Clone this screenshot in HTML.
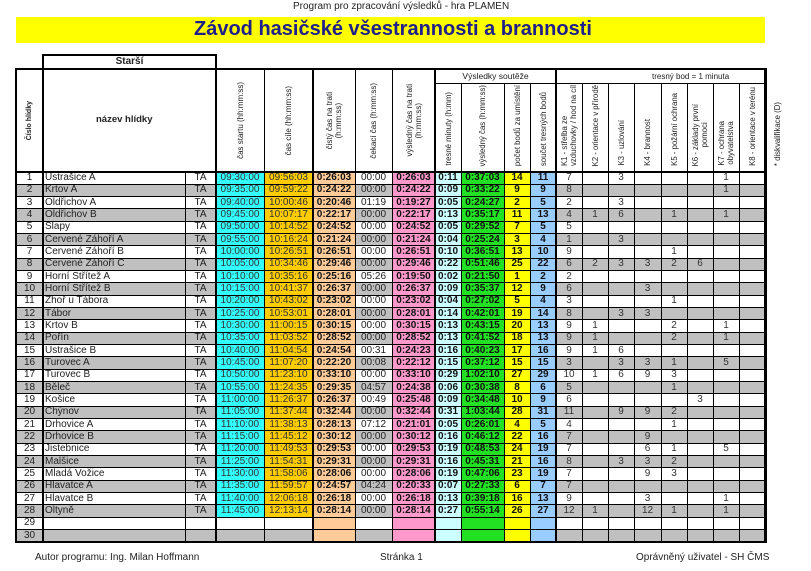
<!DOCTYPE html>
<html><head><meta charset="utf-8">
<style>
*{margin:0;padding:0;box-sizing:border-box}
body{width:811px;height:571px;background:#fff;position:relative;overflow:hidden;font-family:"Liberation Sans",Arial,sans-serif;color:#222}
.a{position:absolute;white-space:nowrap}
#tb{position:absolute;left:16px;top:172px;width:749px}
.r{position:relative;height:12.3333px;display:flex;background:#fff}
.r:nth-child(even){background:#c0c0c0}
.r i{font-style:normal;display:block;flex:none;height:100%;font-size:10px;line-height:12.4px;text-align:center;white-space:nowrap;overflow:hidden;color:#222}
.r::after{content:"";position:absolute;left:0;right:0;bottom:-0.5px;height:1px;background:#000;z-index:3}
.r i:nth-child(1){width:27px}
.r i:nth-child(2){width:142px;text-align:left;padding-left:2px}
.r i:nth-child(3){width:31px}
.r i:nth-child(4){width:48px;color:#333}
.r i:nth-child(5){width:49px;color:#333}
.r i:nth-child(6){width:42px;background:#ffcc99;font-weight:bold;color:#111}
.r i:nth-child(7){width:37px}
.r i:nth-child(8){width:43px;background:#ff99cc;font-weight:bold;color:#111}
.r i:nth-child(9){width:26px;background:#ccffff;font-weight:bold;color:#111}
.r i:nth-child(10){width:43px;background:#22e022;font-weight:bold;color:#111}
.r i:nth-child(11){width:26px;background:#ffff00;font-weight:bold;color:#111}
.r i:nth-child(12){width:26px;background:#99ccff;font-weight:bold;color:#111}
.r i:nth-child(n+13){width:26px;color:#333}
.r i:nth-child(16){width:27px}
.r.d i:nth-child(4){background:#33ffff}
.r.d i:nth-child(5){background:#ffcc00}
.v{position:absolute;background:#000;z-index:4}
.hl{position:absolute;display:flex;flex-direction:column;align-items:center;z-index:5}
.vt{writing-mode:vertical-rl;transform:rotate(180deg);text-align:center;font-size:8px;line-height:9px;white-space:nowrap;color:#222}
.g1{top:69px;height:103px;justify-content:center}
.g2{top:83px;height:89px;justify-content:flex-end;padding-bottom:6px}
.g2 .vt{font-size:7.8px}
</style></head><body>

<div class="a" style="left:293px;top:1.5px;font-size:10px;line-height:10px;color:#222">Program pro zpracování výsledků - hra PLAMEN</div>
<div class="a" style="left:16px;top:17px;width:749px;height:26px;background:#ffff00"></div>
<div class="a" style="left:194px;top:19px;font-size:20px;line-height:20px;font-weight:bold;color:#1e1e8c">Závod hasičské všestrannosti a brannosti</div>

<!-- header labels -->
<div class="a" style="left:43px;top:55px;width:173px;height:14px;font-size:10px;line-height:14px;font-weight:bold;text-align:center">Starší</div>
<div class="hl g1" style="left:16px;width:27px"><div class="vt" style="font-weight:bold;font-size:7px">Číslo hlídky</div></div>
<div class="a" style="left:96px;top:114px;font-size:9.5px;line-height:12px;font-weight:bold">název hlídky</div>
<div class="hl g1" style="left:216px;width:48px"><div class="vt">čas startu (hh:mm:ss)</div></div>
<div class="hl g1" style="left:264px;width:49px"><div class="vt">čas cíle (hh:mm:ss)</div></div>
<div class="hl g1" style="left:313px;width:42px"><div class="vt">čistý čas na trati<br>(h:mm:ss)</div></div>
<div class="hl g1" style="left:355px;width:37px"><div class="vt">čekací čas (h:mm:ss)</div></div>
<div class="hl g1" style="left:392px;width:43px"><div class="vt">výsledný čas na trati<br>(h:mm:ss)</div></div>

<div class="a" style="left:435px;top:70px;width:121px;height:13px;font-size:8.5px;line-height:13px;text-align:center">Výsledky soutěže</div>
<div class="a" style="left:652px;top:70px;height:13px;font-size:8px;line-height:13px">tresný bod = 1 minuta</div>

<div class="hl g2" style="left:435px;width:26px"><div class="vt">tresné minuty (h:mm)</div></div>
<div class="hl g2" style="left:461px;width:43px"><div class="vt">výsledný čas (h:mm:ss)</div></div>
<div class="hl g2" style="left:504px;width:26px"><div class="vt">počet bodů za umístění</div></div>
<div class="hl g2" style="left:530px;width:26px"><div class="vt">součet tresných bodů</div></div>
<div class="hl g2" style="left:556px;width:26px"><div class="vt" style="text-align:start">K1 - střelba ze<br>vzduchovky / hod na cíl</div></div>
<div class="hl g2" style="left:582px;width:26px"><div class="vt">K2 - orientace v přírodě</div></div>
<div class="hl g2" style="left:608px;width:26px"><div class="vt">K3 - uzlování</div></div>
<div class="hl g2" style="left:634px;width:27px"><div class="vt">K4 - brannost</div></div>
<div class="hl g2" style="left:661px;width:26px"><div class="vt">K5 - požární ochrana</div></div>
<div class="hl g2" style="left:687px;width:26px"><div class="vt">K6 - základy první<br>pomoci</div></div>
<div class="hl g2" style="left:713px;width:26px"><div class="vt">K7 - ochrana<br>obyvatelstva</div></div>
<div class="hl g2" style="left:739px;width:26px"><div class="vt">K8 - orientace v terénu</div></div>
<div class="hl g2" style="left:769px;width:16px"><div class="vt">* diskvalifikace (D)</div></div>

<!-- body -->
<div id="tb">
<div class="r d"><i>1</i><i>Ústrašice A</i><i>TA</i><i>09:30:00</i><i>09:56:03</i><i>0:26:03</i><i>00:00</i><i>0:26:03</i><i>0:11</i><i>0:37:03</i><i>14</i><i>11</i><i>7</i><i></i><i>3</i><i></i><i></i><i></i><i>1</i><i></i></div>
<div class="r d"><i>2</i><i>Krtov A</i><i>TA</i><i>09:35:00</i><i>09:59:22</i><i>0:24:22</i><i>00:00</i><i>0:24:22</i><i>0:09</i><i>0:33:22</i><i>9</i><i>9</i><i>8</i><i></i><i></i><i></i><i></i><i></i><i>1</i><i></i></div>
<div class="r d"><i>3</i><i>Oldřichov A</i><i>TA</i><i>09:40:00</i><i>10:00:46</i><i>0:20:46</i><i>01:19</i><i>0:19:27</i><i>0:05</i><i>0:24:27</i><i>2</i><i>5</i><i>2</i><i></i><i>3</i><i></i><i></i><i></i><i></i><i></i></div>
<div class="r d"><i>4</i><i>Oldřichov B</i><i>TA</i><i>09:45:00</i><i>10:07:17</i><i>0:22:17</i><i>00:00</i><i>0:22:17</i><i>0:13</i><i>0:35:17</i><i>11</i><i>13</i><i>4</i><i>1</i><i>6</i><i></i><i>1</i><i></i><i>1</i><i></i></div>
<div class="r d"><i>5</i><i>Slapy</i><i>TA</i><i>09:50:00</i><i>10:14:52</i><i>0:24:52</i><i>00:00</i><i>0:24:52</i><i>0:05</i><i>0:29:52</i><i>7</i><i>5</i><i>5</i><i></i><i></i><i></i><i></i><i></i><i></i><i></i></div>
<div class="r d"><i>6</i><i>Červené Záhoří A</i><i>TA</i><i>09:55:00</i><i>10:16:24</i><i>0:21:24</i><i>00:00</i><i>0:21:24</i><i>0:04</i><i>0:25:24</i><i>3</i><i>4</i><i>1</i><i></i><i>3</i><i></i><i></i><i></i><i></i><i></i></div>
<div class="r d"><i>7</i><i>Červené Záhoří B</i><i>TA</i><i>10:00:00</i><i>10:26:51</i><i>0:26:51</i><i>00:00</i><i>0:26:51</i><i>0:10</i><i>0:36:51</i><i>13</i><i>10</i><i>9</i><i></i><i></i><i></i><i>1</i><i></i><i></i><i></i></div>
<div class="r d"><i>8</i><i>Červené Záhoří C</i><i>TA</i><i>10:05:00</i><i>10:34:46</i><i>0:29:46</i><i>00:00</i><i>0:29:46</i><i>0:22</i><i>0:51:46</i><i>25</i><i>22</i><i>6</i><i>2</i><i>3</i><i>3</i><i>2</i><i>6</i><i></i><i></i></div>
<div class="r d"><i>9</i><i>Horní Střítež A</i><i>TA</i><i>10:10:00</i><i>10:35:16</i><i>0:25:16</i><i>05:26</i><i>0:19:50</i><i>0:02</i><i>0:21:50</i><i>1</i><i>2</i><i>2</i><i></i><i></i><i></i><i></i><i></i><i></i><i></i></div>
<div class="r d"><i>10</i><i>Horní Střítež B</i><i>TA</i><i>10:15:00</i><i>10:41:37</i><i>0:26:37</i><i>00:00</i><i>0:26:37</i><i>0:09</i><i>0:35:37</i><i>12</i><i>9</i><i>6</i><i></i><i></i><i>3</i><i></i><i></i><i></i><i></i></div>
<div class="r d"><i>11</i><i>Zhoř u Tábora</i><i>TA</i><i>10:20:00</i><i>10:43:02</i><i>0:23:02</i><i>00:00</i><i>0:23:02</i><i>0:04</i><i>0:27:02</i><i>5</i><i>4</i><i>3</i><i></i><i></i><i></i><i>1</i><i></i><i></i><i></i></div>
<div class="r d"><i>12</i><i>Tábor</i><i>TA</i><i>10:25:00</i><i>10:53:01</i><i>0:28:01</i><i>00:00</i><i>0:28:01</i><i>0:14</i><i>0:42:01</i><i>19</i><i>14</i><i>8</i><i></i><i>3</i><i>3</i><i></i><i></i><i></i><i></i></div>
<div class="r d"><i>13</i><i>Krtov B</i><i>TA</i><i>10:30:00</i><i>11:00:15</i><i>0:30:15</i><i>00:00</i><i>0:30:15</i><i>0:13</i><i>0:43:15</i><i>20</i><i>13</i><i>9</i><i>1</i><i></i><i></i><i>2</i><i></i><i>1</i><i></i></div>
<div class="r d"><i>14</i><i>Pořín</i><i>TA</i><i>10:35:00</i><i>11:03:52</i><i>0:28:52</i><i>00:00</i><i>0:28:52</i><i>0:13</i><i>0:41:52</i><i>18</i><i>13</i><i>9</i><i>1</i><i></i><i></i><i>2</i><i></i><i>1</i><i></i></div>
<div class="r d"><i>15</i><i>Ústrašice B</i><i>TA</i><i>10:40:00</i><i>11:04:54</i><i>0:24:54</i><i>00:31</i><i>0:24:23</i><i>0:16</i><i>0:40:23</i><i>17</i><i>16</i><i>9</i><i>1</i><i>6</i><i></i><i></i><i></i><i></i><i></i></div>
<div class="r d"><i>16</i><i>Turovec A</i><i>TA</i><i>10:45:00</i><i>11:07:20</i><i>0:22:20</i><i>00:08</i><i>0:22:12</i><i>0:15</i><i>0:37:12</i><i>15</i><i>15</i><i>3</i><i></i><i>3</i><i>3</i><i>1</i><i></i><i>5</i><i></i></div>
<div class="r d"><i>17</i><i>Turovec B</i><i>TA</i><i>10:50:00</i><i>11:23:10</i><i>0:33:10</i><i>00:00</i><i>0:33:10</i><i>0:29</i><i>1:02:10</i><i>27</i><i>29</i><i>10</i><i>1</i><i>6</i><i>9</i><i>3</i><i></i><i></i><i></i></div>
<div class="r d"><i>18</i><i>Běleč</i><i>TA</i><i>10:55:00</i><i>11:24:35</i><i>0:29:35</i><i>04:57</i><i>0:24:38</i><i>0:06</i><i>0:30:38</i><i>8</i><i>6</i><i>5</i><i></i><i></i><i></i><i>1</i><i></i><i></i><i></i></div>
<div class="r d"><i>19</i><i>Košice</i><i>TA</i><i>11:00:00</i><i>11:26:37</i><i>0:26:37</i><i>00:49</i><i>0:25:48</i><i>0:09</i><i>0:34:48</i><i>10</i><i>9</i><i>6</i><i></i><i></i><i></i><i></i><i>3</i><i></i><i></i></div>
<div class="r d"><i>20</i><i>Chýnov</i><i>TA</i><i>11:05:00</i><i>11:37:44</i><i>0:32:44</i><i>00:00</i><i>0:32:44</i><i>0:31</i><i>1:03:44</i><i>28</i><i>31</i><i>11</i><i></i><i>9</i><i>9</i><i>2</i><i></i><i></i><i></i></div>
<div class="r d"><i>21</i><i>Drhovice A</i><i>TA</i><i>11:10:00</i><i>11:38:13</i><i>0:28:13</i><i>07:12</i><i>0:21:01</i><i>0:05</i><i>0:26:01</i><i>4</i><i>5</i><i>4</i><i></i><i></i><i></i><i>1</i><i></i><i></i><i></i></div>
<div class="r d"><i>22</i><i>Drhovice B</i><i>TA</i><i>11:15:00</i><i>11:45:12</i><i>0:30:12</i><i>00:00</i><i>0:30:12</i><i>0:16</i><i>0:46:12</i><i>22</i><i>16</i><i>7</i><i></i><i></i><i>9</i><i></i><i></i><i></i><i></i></div>
<div class="r d"><i>23</i><i>Jistebnice</i><i>TA</i><i>11:20:00</i><i>11:49:53</i><i>0:29:53</i><i>00:00</i><i>0:29:53</i><i>0:19</i><i>0:48:53</i><i>24</i><i>19</i><i>7</i><i></i><i></i><i>6</i><i>1</i><i></i><i>5</i><i></i></div>
<div class="r d"><i>24</i><i>Malšice</i><i>TA</i><i>11:25:00</i><i>11:54:31</i><i>0:29:31</i><i>00:00</i><i>0:29:31</i><i>0:16</i><i>0:45:31</i><i>21</i><i>16</i><i>8</i><i></i><i>3</i><i>3</i><i>2</i><i></i><i></i><i></i></div>
<div class="r d"><i>25</i><i>Mladá Vožice</i><i>TA</i><i>11:30:00</i><i>11:58:06</i><i>0:28:06</i><i>00:00</i><i>0:28:06</i><i>0:19</i><i>0:47:06</i><i>23</i><i>19</i><i>7</i><i></i><i></i><i>9</i><i>3</i><i></i><i></i><i></i></div>
<div class="r d"><i>26</i><i>Hlavatce A</i><i>TA</i><i>11:35:00</i><i>11:59:57</i><i>0:24:57</i><i>04:24</i><i>0:20:33</i><i>0:07</i><i>0:27:33</i><i>6</i><i>7</i><i>7</i><i></i><i></i><i></i><i></i><i></i><i></i><i></i></div>
<div class="r d"><i>27</i><i>Hlavatce B</i><i>TA</i><i>11:40:00</i><i>12:06:18</i><i>0:26:18</i><i>00:00</i><i>0:26:18</i><i>0:13</i><i>0:39:18</i><i>16</i><i>13</i><i>9</i><i></i><i></i><i>3</i><i></i><i></i><i>1</i><i></i></div>
<div class="r d"><i>28</i><i>Oltyně</i><i>TA</i><i>11:45:00</i><i>12:13:14</i><i>0:28:14</i><i>00:00</i><i>0:28:14</i><i>0:27</i><i>0:55:14</i><i>26</i><i>27</i><i>12</i><i>1</i><i></i><i>12</i><i>1</i><i></i><i>1</i><i></i></div>
<div class="r"><i>29</i><i></i><i></i><i></i><i></i><i></i><i></i><i></i><i></i><i></i><i></i><i></i><i></i><i></i><i></i><i></i><i></i><i></i><i></i><i></i></div>
<div class="r"><i>30</i><i></i><i></i><i></i><i></i><i></i><i></i><i></i><i></i><i></i><i></i><i></i><i></i><i></i><i></i><i></i><i></i><i></i><i></i><i></i></div>
</div>

<!-- grid lines -->
<div class="v" style="left:42px;top:54px;width:175px;height:2px"></div>
<div class="v" style="left:15px;top:68px;width:752px;height:2px"></div>
<div class="v" style="left:435px;top:83px;width:330px;height:1px"></div>
<div class="v" style="left:15px;top:171px;width:752px;height:2px"></div>
<div class="v" style="left:15px;top:541px;width:752px;height:2px"></div>

<div class="v" style="left:15px;top:68px;width:2px;height:475px"></div>
<div class="v" style="left:42px;top:54px;width:2px;height:489px"></div>
<div class="v" style="left:185px;top:172px;width:1px;height:370px"></div>
<div class="v" style="left:215px;top:54px;width:2px;height:489px"></div>
<div class="v" style="left:264px;top:69px;width:1px;height:473px"></div>
<div class="v" style="left:312px;top:69px;width:2px;height:473px"></div>
<div class="v" style="left:355px;top:69px;width:1px;height:473px"></div>
<div class="v" style="left:392px;top:69px;width:1px;height:473px"></div>
<div class="v" style="left:434px;top:69px;width:2px;height:473px"></div>
<div class="v" style="left:461px;top:83px;width:1px;height:459px"></div>
<div class="v" style="left:504px;top:83px;width:1px;height:459px"></div>
<div class="v" style="left:530px;top:83px;width:1px;height:459px"></div>
<div class="v" style="left:555px;top:69px;width:2px;height:473px"></div>
<div class="v" style="left:582px;top:83px;width:1px;height:459px"></div>
<div class="v" style="left:608px;top:83px;width:1px;height:459px"></div>
<div class="v" style="left:634px;top:83px;width:1px;height:459px"></div>
<div class="v" style="left:661px;top:83px;width:1px;height:459px"></div>
<div class="v" style="left:687px;top:83px;width:1px;height:459px"></div>
<div class="v" style="left:713px;top:83px;width:1px;height:459px"></div>
<div class="v" style="left:739px;top:83px;width:1px;height:459px"></div>
<div class="v" style="left:764px;top:68px;width:3px;height:475px"></div>

<!-- footer -->
<div class="a" style="left:35px;top:551.5px;font-size:10px;line-height:12px;color:#222">Autor programu: Ing. Milan Hoffmann</div>
<div class="a" style="left:380px;top:551.5px;font-size:10px;line-height:12px;color:#222">Stránka 1</div>
<div class="a" style="left:636px;top:551.5px;font-size:10px;line-height:12px;color:#222">Oprávněný uživatel - SH ČMS</div>
</body></html>
